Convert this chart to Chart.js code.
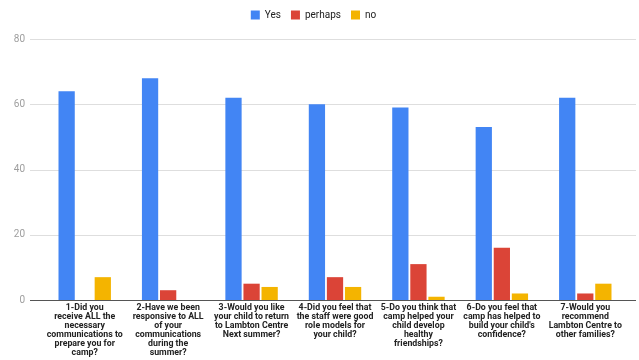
<!DOCTYPE html>
<html>
<head>
<meta charset="utf-8">
<script src="https://cdn.jsdelivr.net/npm/chart.js@4.4.1/dist/chart.umd.min.js"></script>
<style>
    html, body { margin: 0; padding: 0; background: #ffffff; }
    #wrap { width: 639px; height: 360px; }
</style>
</head>
<body>
<div id="wrap"><canvas id="chart"></canvas></div>
<script>
// 問卷題目（多行標籤）
const questions = [
    ['1-Did you', 'receive ALL the', 'necessary', 'communications to', 'prepare you for', 'camp?'],
    ['2-Have we been', 'responsive to ALL', 'of your', 'communications', 'during the', 'summer?'],
    ['3-Would you like', 'your child to return', 'to Lambton Centre', 'Next summer?'],
    ['4-Did you feel that', 'the staff were good', 'role models for', 'your child?'],
    ['5-Do you think that', 'camp helped your', 'child develop', 'healthy', 'friendships?'],
    ['6-Do you feel that', 'camp has helped to', 'build your child\'s', 'confidence?'],
    ['7-Would you', 'recommend', 'Lambton Centre to', 'other families?']
];

const yesCounts = [64, 68, 62, 60, 59, 53, 62];
const perhapsCounts = [0, 3, 5, 7, 11, 16, 2];
const noCounts = [7, 0, 4, 4, 1, 2, 5];

const yTicks = [0, 20, 40, 60, 80];

// 橫向格線延伸到圖表區左右兩側
const gridPlugin = {
    id: 'wideGrid',
    beforeUpdate(chart) {
        // 圖例下方多留一點空間
        const legend = chart.legend;
        if (legend && !legend._patched) {
            const fit = legend.fit;
            legend.fit = function() {
                fit.call(this);
                this.height += 9;
            };
            legend._patched = true;
        }
    },
    beforeDatasetsDraw(chart) {
        const ctx = chart.ctx;
        const y = chart.scales.y;
        ctx.save();
        yTicks.forEach(v => {
            const py = Math.round(y.getPixelForValue(v)) + 0.5;
            ctx.beginPath();
            ctx.moveTo(30, py);
            ctx.lineTo(636, py);
            ctx.lineWidth = 1;
            ctx.strokeStyle = v === 0 ? '#555555' : '#dedede';
            ctx.stroke();
        });
        ctx.restore();
    }
};

new Chart(document.getElementById('chart'), {
    type: 'bar',
    data: {
        labels: questions,
        datasets: [
            { label: 'Yes', data: yesCounts, backgroundColor: '#4285f4' },
            { label: 'perhaps', data: perhapsCounts, backgroundColor: '#db4437' },
            { label: 'no', data: noCounts, backgroundColor: '#f4b400' }
        ]
    },
    options: {
        responsive: true,
        maintainAspectRatio: false,
        animation: false,
        categoryPercentage: 0.65,
        barPercentage: 0.9,
        layout: {
            padding: { left: 0, right: 12, top: 0, bottom: 0 }
        },
        plugins: {
            legend: {
                position: 'top',
                labels: {
                    boxWidth: 9,
                    boxHeight: 9,
                    padding: 10,
                    color: '#222222',
                    font: { family: 'Roboto', size: 10 }
                }
            },
            tooltip: { enabled: false }
        },
        scales: {
            x: {
                grid: { display: false, drawTicks: false },
                border: { display: false },
                ticks: {
                    autoSkip: false,
                    maxRotation: 0,
                    minRotation: 0,
                    padding: 3,
                    color: '#222222',
                    font: { family: 'Roboto', size: 8.8, weight: 'bold', lineHeight: 1.02 }
                },
                afterFit(scale) { scale.height = 60; }
            },
            y: {
                min: 0,
                max: 80,
                grid: { display: false, drawTicks: false },
                border: { display: false },
                ticks: {
                    stepSize: 20,
                    padding: 18,
                    color: '#9e9e9e',
                    font: { family: 'Roboto', size: 10 }
                },
                afterFit(scale) { scale.width = 43; }
            }
        }
    },
    plugins: [gridPlugin]
});
</script>
</body>
</html>
